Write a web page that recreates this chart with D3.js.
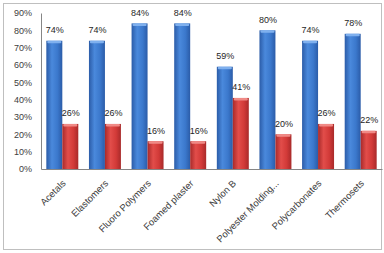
<!DOCTYPE html>
<html><head><meta charset="utf-8">
<script src="https://cdn.jsdelivr.net/npm/d3@7"></script>
<style>body{margin:0;background:#fff}svg{display:block}text{font-family:"Liberation Sans",Arial,sans-serif}</style>
</head><body><svg id="c" width="384" height="253"></svg>
<script>
const categories = ["Acetals","Elastomers","Fluoro Polymers","Foamed plaster","Nylon B","Polyester Molding...","Polycarbonates","Thermosets"];
const seriesA = [74,74,84,84,59,80,74,78];
const seriesB = [26,26,16,16,41,20,26,22];
const yTicks = [0,10,20,30,40,50,60,70,80,90];

const svg = d3.select("#c");
const defs = svg.append("defs");
function grad(id, edge, mid, light){
  const g = defs.append("linearGradient").attr("id",id).attr("x1","0").attr("x2","1").attr("y1","0").attr("y2","0");
  g.append("stop").attr("offset","0%").attr("stop-color",edge);
  g.append("stop").attr("offset","35%").attr("stop-color",light);
  g.append("stop").attr("offset","70%").attr("stop-color",mid);
  g.append("stop").attr("offset","100%").attr("stop-color",edge);
}
grad("gb","#2b5ca8","#3b78cc","#4a89dc");
grad("gr","#a82a2a","#d23a38","#e24d4a");

svg.append("rect").attr("x",3.5).attr("y",3.5).attr("width",378).attr("height",246)
  .attr("fill","#fff").attr("stroke","#bfbfbf");

const y = d3.scaleLinear().domain([0,90]).range([169,13]);
const x0 = d3.scaleBand().domain(categories).range([41,382]).paddingInner(0.25).paddingOuter(0.125);
const x1 = d3.scaleBand().domain(["A","B"]).range([0,x0.bandwidth()]);

const yAxis = d3.axisLeft(y).tickValues(yTicks).tickFormat(d=>d+"%").tickSize(0).tickPadding(9);
const ya = svg.append("g").attr("transform","translate(41,0)").call(yAxis);
ya.select(".domain").attr("stroke","#868686");
ya.selectAll("text").attr("font-size",9).attr("fill","#404040");

const xAxis = d3.axisBottom(x0).tickSize(0).tickFormat("");
const xa = svg.append("g").attr("transform","translate(0,169)").call(xAxis);
xa.select(".domain").attr("stroke","#868686");

const g = svg.append("g");
categories.forEach((c,i)=>{
  [["A",seriesA[i],"gb","#7fb0ee"],["B",seriesB[i],"gr","#f08a86"]].forEach(([k,v,gid,cap])=>{
    const bx = x0(c)+x1(k), bw = x1.bandwidth();
    g.append("rect").attr("x",bx).attr("y",y(v)).attr("width",bw).attr("height",y(0)-y(v))
      .attr("fill",`url(#${gid})`);
    g.append("rect").attr("x",bx+1).attr("y",y(v)).attr("width",bw-2).attr("height",2.5)
      .attr("fill",cap).attr("rx",1);
    g.append("text").attr("x",bx+bw/2+0.5).attr("y",y(v)-7.5).attr("text-anchor","middle")
      .attr("font-size",9).attr("fill","#262626").text(v+"%");
  });
});

svg.append("g").selectAll("text").data(categories).join("text")
  .attr("transform",d=>`translate(${x0(d)+x0.bandwidth()/2+4},${184}) rotate(-45)`)
  .attr("text-anchor","end").attr("font-size",9.5).attr("fill","#404040").text(d=>d);
</script></body></html>
